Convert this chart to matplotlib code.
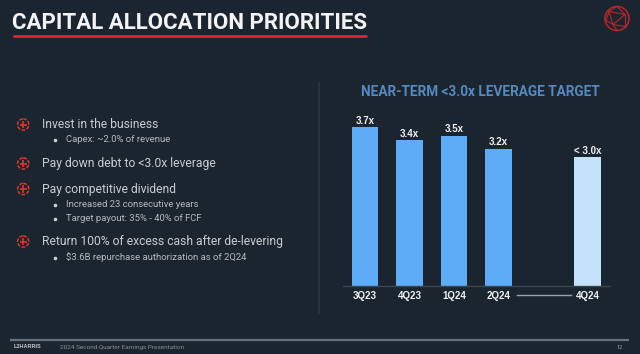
import matplotlib
matplotlib.use("Agg")
import matplotlib.pyplot as plt
from matplotlib.patches import Circle

categories = ["3Q23", "4Q23", "1Q24", "2Q24", "4Q24"]
positions = [0, 1, 2, 3, 5]
leverage = [3.7, 3.4, 3.5, 3.2, 3.0]
bar_labels = ["3.7x", "3.4x", "3.5x", "3.2x", "< 3.0x"]
bar_colors = ["#5EABF8", "#5EABF8", "#5EABF8", "#5EABF8", "#C5E2FB"]
bullets = [
    ("Invest in the business", 124.5, 0),
    ("Capex: ~2.0% of revenue", 140, 1),
    ("Pay down debt to <3.0x leverage", 163.5, 0),
    ("Pay competitive dividend", 189, 0),
    ("Increased 23 consecutive years", 204.5, 1),
    ("Target payout: 35% - 40% of FCF", 218.5, 1),
    ("Return 100% of excess cash after de-levering", 241.5, 0),
    ("$3.6B repurchase authorization as of 2Q24", 257.5, 1),
]
BG = "#1B2530"
W, H = 640, 354
fig = plt.figure(figsize=(6.4, 3.54), dpi=100, facecolor=BG)

# page overlay in pixel coordinates
ov = fig.add_axes([0, 0, 1, 1])
ov.set_xlim(0, W); ov.set_ylim(H, 0); ov.axis("off")

ov.text(12.5, 23, "CAPITAL ALLOCATION PRIORITIES", color="#F2F4F6", fontsize=16,
        family="Roboto", weight="bold", va="center", ha="left")
ov.plot([13, 367], [36, 36], color="#E02B20", lw=1.9, solid_capstyle="butt")

for text, y, level in bullets:
    if level == 0:
        ov.text(41.5, y, text, color="#C8CDD2", fontsize=8.75, family="Roboto", va="center")
        ov.add_patch(Circle((23.2, y), 5.6, fill=False, ec="#E5322B", lw=1.1, ls=(0, (2.4, 1.0))))
        ov.plot([19.6, 26.8], [y, y], color="#E5322B", lw=1.2, solid_capstyle="butt")
        ov.plot([23.2, 23.2], [y - 3.6, y + 3.6], color="#E5322B", lw=1.2, solid_capstyle="butt")
    else:
        ov.text(65.5, y, text, color="#B4BAC0", fontsize=6.8, family="Roboto", va="center")
        ov.plot([55.3], [y], marker="o", ms=1.6, color="#C8CDD2", ls="none")

ov.plot([319, 319], [83, 313], color="#28333E", lw=1.4)
ov.text(480, 92, "NEAR-TERM <3.0x LEVERAGE TARGET", color="#5689BE", fontsize=9.8,
        family="Roboto", weight="bold", ha="center", va="center")
ov.plot([516.7, 570.7], [295.3, 295.3], color="#9AA3AD", lw=1)
ov.plot([10, 629], [340, 340], color="#68717C", lw=1.6, solid_capstyle="butt")
ov.text(14, 347, "L3HARRIS", color="#C4C8CC", fontsize=4, weight="bold", family="Liberation Sans", va="center")
ov.text(59.5, 347, "2024 Second Quarter Earnings Presentation", color="#868C93", fontsize=4.6,
        family="Roboto", va="center")
ov.text(620, 347.5, "12", color="#A0A6AC", fontsize=4, family="Roboto", ha="center", va="center")

# logo
cx, cy, r = 617, 18.5, 12
ov.add_patch(Circle((cx, cy), r, fill=False, ec="#B8262A", lw=1.1))
for a, b in [((-8, -7), (8, -4)), ((-8, -7), (-4, 6)), ((8, -4), (-4, 6)), ((-4, 6), (8, 8)),
             ((8, -4), (8, 8)), ((-8, -7), (-11, 2)), ((-4, 6), (-11, 2)), ((0, -12), (-8, -7)),
             ((0, -12), (8, -4)), ((-4, 6), (0, 12))]:
    ov.plot([cx + a[0], cx + b[0]], [cy + a[1], cy + b[1]], color="#B8262A", lw=0.8)

# chart
L, R, T, B = 342.5, 610, 114.5, 285.7
ax = fig.add_axes([L / W, 1 - B / H, (R - L) / W, (B - T) / H])
ax.patch.set_alpha(0)
ax.bar(positions, leverage, width=0.6, color=bar_colors, linewidth=0)
ax.set_xlim(-0.505, 5.498); ax.set_ylim(0, 4)
for s in ["top", "left", "right"]:
    ax.spines[s].set_visible(False)
ax.spines["bottom"].set_color("#3A4550"); ax.spines["bottom"].set_linewidth(1)
ax.set_yticks([])
ax.set_xticks(positions, categories, family="Liberation Sans", weight="bold", fontsize=7, color="#F0F2F4")
ax.tick_params(axis="x", length=0, pad=3.8)
for x, v, t in zip(positions, leverage, bar_labels):
    ax.annotate(t, (x, v), xytext=(0, 1.2), textcoords="offset points", ha="center", va="bottom",
                family="Liberation Sans", weight="bold", fontsize=7, color="#F0F2F4")

fig.savefig("out.png", dpi=100, facecolor=BG)
